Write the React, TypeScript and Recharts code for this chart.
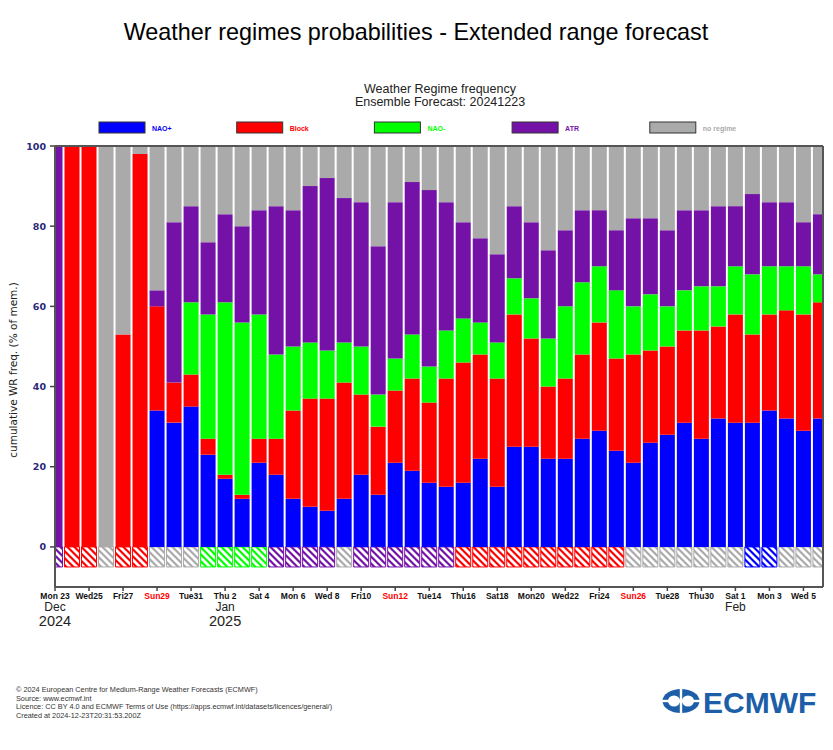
import React from 'react';
import { BarChart, Bar, XAxis, YAxis, Cell, ReferenceLine } from 'recharts';

// ---------- data ----------
const days = [
  'Dec23', 'Dec24', 'Dec25', 'Dec26', 'Dec27', 'Dec28', 'Dec29', 'Dec30', 'Dec31',
  'Jan1', 'Jan2', 'Jan3', 'Jan4', 'Jan5', 'Jan6', 'Jan7', 'Jan8', 'Jan9', 'Jan10',
  'Jan11', 'Jan12', 'Jan13', 'Jan14', 'Jan15', 'Jan16', 'Jan17', 'Jan18', 'Jan19',
  'Jan20', 'Jan21', 'Jan22', 'Jan23', 'Jan24', 'Jan25', 'Jan26', 'Jan27', 'Jan28',
  'Jan29', 'Jan30', 'Jan31', 'Feb1', 'Feb2', 'Feb3', 'Feb4', 'Feb5', 'Feb6',
];
const naoPlus = [0, 0, 0, 0, 0, 0, 34, 31, 35, 23, 17, 12, 21, 18, 12, 10, 9, 12, 18, 13, 21, 19, 16, 15, 16, 22, 15, 25, 25, 22, 22, 27, 29, 24, 21, 26, 28, 31, 27, 32, 31, 31, 34, 32, 29, 32];
const block = [0, 100, 100, 0, 53, 98, 26, 10, 8, 4, 1, 1, 6, 9, 22, 27, 28, 29, 20, 17, 18, 23, 20, 27, 30, 26, 27, 33, 27, 18, 20, 21, 27, 23, 27, 23, 22, 23, 27, 23, 27, 22, 24, 27, 29, 29];
const naoMinus = [0, 0, 0, 0, 0, 0, 0, 0, 18, 31, 43, 43, 31, 21, 16, 14, 12, 10, 12, 8, 8, 11, 9, 12, 11, 8, 9, 9, 10, 12, 18, 18, 14, 17, 12, 14, 10, 10, 11, 10, 12, 15, 12, 11, 12, 7];
const atr = [100, 0, 0, 0, 0, 0, 4, 40, 24, 18, 22, 24, 26, 37, 34, 39, 43, 36, 36, 37, 39, 38, 44, 32, 24, 21, 22, 18, 19, 22, 19, 18, 14, 15, 22, 19, 19, 20, 19, 20, 15, 20, 16, 16, 11, 15];
const noRegime = [0, 0, 0, 100, 47, 2, 36, 19, 15, 24, 17, 20, 16, 15, 16, 10, 8, 13, 14, 25, 14, 9, 11, 14, 19, 23, 27, 15, 19, 26, 21, 16, 16, 21, 18, 18, 21, 16, 16, 15, 15, 12, 14, 14, 19, 17];
const attributed = [
  'atr', 'block', 'block', 'none', 'block', 'block', 'none', 'none', 'none',
  'naoMinus', 'naoMinus', 'naoMinus', 'naoMinus', 'atr', 'atr', 'atr', 'atr', 'none', 'atr',
  'atr', 'atr', 'atr', 'atr', 'atr', 'block', 'block', 'block', 'block',
  'block', 'block', 'block', 'block', 'block', 'block', 'none', 'none', 'none',
  'none', 'none', 'none', 'none', 'naoPlus', 'naoPlus', 'none', 'none', 'none',
];
const tickDays = [0, 2, 4, 6, 8, 10, 12, 14, 16, 18, 20, 22, 24, 26, 28, 30, 32, 34, 36, 38, 40, 42, 44];
const tickLabels = ['Mon 23', 'Wed25', 'Fri27', 'Sun29', 'Tue31', 'Thu 2', 'Sat 4', 'Mon 6', 'Wed 8', 'Fri10', 'Sun12', 'Tue14', 'Thu16', 'Sat18', 'Mon20', 'Wed22', 'Fri24', 'Sun26', 'Tue28', 'Thu30', 'Sat 1', 'Mon 3', 'Wed 5'];
const monthDays = [0, 10, 40];
const monthNames = ['Dec', 'Jan', 'Feb'];
const monthYears = ['2024', '2025', ''];
const yTicks = [0, 20, 40, 60, 80, 100];
const regimeKeys = ['naoPlus', 'block', 'naoMinus', 'atr', 'none'];
const regimeNames = ['NAO+', 'Block', 'NAO-', 'ATR', 'no regime'];
const regimeColors = ['#0000ff', '#ff0000', '#00ff00', '#7412a8', '#aaaaaa'];
const footerLines = [
  '\u00a9 2024 European Centre for Medium-Range Weather Forecasts (ECMWF)',
  'Source: www.ecmwf.int',
  'Licence: CC BY 4.0 and ECMWF Terms of Use (https://apps.ecmwf.int/datasets/licences/general/)',
  'Created at 2024-12-23T20:31:53.200Z',
];

const HATCH_DEPTH = -5;
const X_MAX = 45.15;

const data = days.map((d, i) => ({
  x: i,
  day: d,
  naoPlus: naoPlus[i],
  block: block[i],
  naoMinus: naoMinus[i],
  atr: atr[i],
  none: noRegime[i],
  hatch: HATCH_DEPTH,
}));

const colorOf = (key: string) => regimeColors[regimeKeys.indexOf(key)];

const XTick = (props: any) => {
  const { x, y, payload } = props;
  const idx = tickDays.indexOf(payload.value);
  if (idx < 0) return null;
  const label = tickLabels[idx];
  const isSun = label.startsWith('Sun');
  const m = monthDays.indexOf(payload.value);
  return (
    <g>
      <text x={x} y={y + 6} textAnchor="middle" fontFamily="Liberation Sans, Arial, sans-serif" fontWeight="bold" fontSize={8.5} fill={isSun ? '#ff0000' : '#111'}>
        {label}
      </text>
      {m >= 0 && (
        <text x={x} y={y + 18} textAnchor="middle" fontFamily="Liberation Sans, Arial, sans-serif" fontSize={12} fill="#222">
          {monthNames[m]}
        </text>
      )}
      {m >= 0 && monthYears[m] && (
        <text x={x} y={y + 33} textAnchor="middle" fontFamily="Liberation Sans, Arial, sans-serif" fontSize={14.5} fill="#222">
          {monthYears[m]}
        </text>
      )}
    </g>
  );
};

const YTick = (props: any) => {
  const { x, y, payload } = props;
  return (
    <text x={x - 2} y={y + 3.5} textAnchor="end" fontFamily="DejaVu Sans, sans-serif" fontWeight="bold" fontSize={9.5} fill="#2a2a78">
      {payload.value}
    </text>
  );
};

export default function App() {
  return (
    <div style={{ position: 'absolute', left: 0, top: 0, width: 833, height: 750, background: '#fff', fontFamily: 'Liberation Sans, Arial, sans-serif' }}>
      <svg width={0} height={0} style={{ position: 'absolute' }}>
        <defs>
          {regimeKeys.map((k, i) => (
            <pattern key={k} id={`hatch-${k}`} patternUnits="userSpaceOnUse" width={7} height={7}>
              <rect width={7} height={7} fill={regimeColors[i]} />
              <path d="M0,0 L7,7 M-1,6 L1,8 M6,-1 L8,1" stroke="#ffffff" strokeWidth={2.8} />
            </pattern>
          ))}
        </defs>
      </svg>

      <div style={{ position: 'absolute', left: 0, top: 0 }}>
        <BarChart
          width={833}
          height={750}
          data={data}
          stackOffset="sign"
          margin={{ top: 146, right: 10, bottom: 123, left: 10 }}
        >
          <XAxis
            dataKey="x"
            type="number"
            domain={[0, X_MAX]}
            allowDataOverflow
            ticks={tickDays}
            interval={0}
            height={40}
            tickSize={4}
            tickLine={{ stroke: '#444', strokeWidth: 1.5 }}
            axisLine={{ stroke: '#555', strokeWidth: 2 }}
            tick={(p: any) => <XTick {...p} />}
          />
          <YAxis
            type="number"
            domain={[-10, 100]}
            allowDataOverflow
            ticks={yTicks}
            interval={0}
            width={45}
            tickSize={5}
            tickLine={{ stroke: '#444', strokeWidth: 1.5 }}
            axisLine={{ stroke: '#555', strokeWidth: 2 }}
            tick={(p: any) => <YTick {...p} />}
          />
          <Bar dataKey="hatch" stackId="a" barSize={15} isAnimationActive={false}>
            {data.map((d, i) => (
              <Cell key={i} fill={`url(#hatch-${attributed[i]})`} stroke={colorOf(attributed[i])} strokeWidth={1} />
            ))}
          </Bar>
          {regimeKeys.map((k, i) => (
            <Bar key={k} dataKey={k} stackId="a" barSize={15} fill={regimeColors[i]} isAnimationActive={false} />
          ))}
          <ReferenceLine y={100} stroke="#555" strokeWidth={2} />
          <ReferenceLine x={X_MAX} stroke="#555" strokeWidth={2} />
        </BarChart>
      </div>

      <svg width={833} height={750} style={{ position: 'absolute', left: 0, top: 0, pointerEvents: 'none' }}>
        <text x={416} y={40} textAnchor="middle" fontFamily="Liberation Sans, Arial, sans-serif" fontSize={23.4} fill="#000">
          Weather regimes probabilities - Extended range forecast
        </text>
        <text x={440} y={93} textAnchor="middle" fontFamily="Liberation Sans, Arial, sans-serif" fontSize={12.5} fill="#222">
          Weather Regime frequency
        </text>
        <text x={440} y={106} textAnchor="middle" fontFamily="Liberation Sans, Arial, sans-serif" fontSize={12.5} fill="#222">
          Ensemble Forecast: 20241223
        </text>
        {regimeNames.map((n, i) => (
          <g key={n}>
            <rect x={99 + i * 137.7} y={122} width={46} height={11} fill={regimeColors[i]} stroke="#333" strokeWidth={1} />
            <text x={152 + i * 137.7} y={130.5} fontFamily="Liberation Sans, Arial, sans-serif" fontWeight="bold" fontSize={7} fill={regimeColors[i]}>
              {n}
            </text>
          </g>
        ))}
        <text
          x={17}
          y={370}
          textAnchor="middle"
          transform="rotate(-90 17 370)"
          fontFamily="DejaVu Sans, sans-serif"
          fontSize={10.5}
          fill="#222"
        >
          cumulative WR freq. (% of mem.)
        </text>
        {footerLines.map((l, i) => (
          <text key={i} x={16} y={692 + i * 8.6} fontFamily="Liberation Sans, Arial, sans-serif" fontSize={7.3} fill="#333">
            {l}
          </text>
        ))}
        <g transform="translate(662,689)">
          <ellipse cx={19} cy={12} rx={18.5} ry={12} fill="#1c5ea8" />
          <ellipse cx={12} cy={12} rx={6} ry={5.5} fill="#fff" />
          <ellipse cx={26} cy={12} rx={6} ry={5.5} fill="#fff" />
          <rect x={0} y={10.8} width={38} height={2.4} fill="#fff" />
          <rect x={17.8} y={0} width={2.4} height={24} fill="#fff" />
        </g>
        <text x={703} y={713} fontFamily="Liberation Sans, Arial, sans-serif" fontWeight="bold" fontSize={30} fill="#1c5ea8">
          ECMWF
        </text>
      </svg>
    </div>
  );
}
